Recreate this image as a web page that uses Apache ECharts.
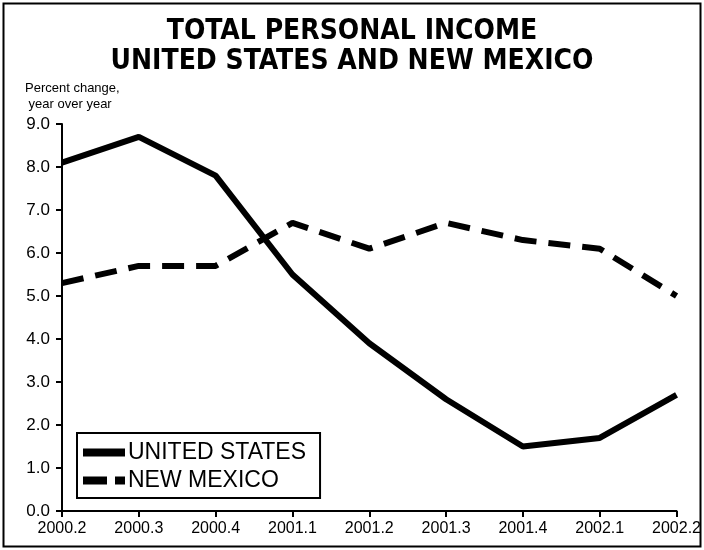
<!DOCTYPE html>
<html>
<head>
<meta charset="utf-8">
<script src="https://cdn.jsdelivr.net/npm/echarts@6/dist/echarts.min.js"></script>
<style>
  html, body { margin: 0; padding: 0; background: #fff; }
  #chart { width: 704px; height: 550px; }
</style>
</head>
<body>
<div id="chart"></div>
<script>
const quarters = ["2000.2", "2000.3", "2000.4", "2001.1", "2001.2", "2001.3", "2001.4", "2002.1", "2002.2"];
const unitedStates = [8.1, 8.7, 7.8, 5.5, 3.9, 2.6, 1.5, 1.7, 2.7];
const newMexico = [5.3, 5.7, 5.7, 6.7, 6.1, 6.7, 6.3, 6.1, 5.0];
const yTicks = [0, 1, 2, 3, 4, 5, 6, 7, 8, 9];

const labelFont = "'Liberation Sans', Arial, sans-serif";

const chart = echarts.init(document.getElementById("chart"), null, { renderer: "canvas" });

const option = {
  backgroundColor: "#fff",
  animation: false,
  title: {
    text: "TOTAL PERSONAL INCOME\nUNITED STATES AND NEW MEXICO",
    left: "center",
    top: 12,
    textStyle: {
      fontFamily: "'DejaVu Sans Condensed', 'DejaVu Sans', sans-serif",
      fontWeight: "bold",
      fontSize: 28,
      lineHeight: 30,
      color: "#000",
    },
  },
  graphic: [
    {
      type: "rect",
      shape: { x: 3.5, y: 3.5, width: 697, height: 543 },
      style: { fill: "none", stroke: "#000", lineWidth: 2 },
      silent: true,
    },
    {
      type: "text",
      left: 25,
      top: 80,
      style: {
        text: "Percent change,\n year over year",
        font: "13px " + labelFont,
        lineHeight: 16,
        fill: "#000",
      },
    },
  ],
  legend: {
    left: 77,
    top: 433,
    orient: "vertical",
    padding: [8, 14, 6, 6],
    itemGap: 5,
    itemWidth: 42,
    itemHeight: 8,
    borderColor: "#000",
    borderWidth: 2,
    borderRadius: 0,
    textStyle: { fontFamily: labelFont, fontSize: 23, color: "#000", padding: [0, 0, 0, -2] },
    data: [
      { name: "UNITED STATES", icon: "path://M0,0H42V8H0Z" },
      { name: "NEW MEXICO", icon: "path://M0,0H24V8H0ZM32,0H42V8H32Z" },
    ],
  },
  grid: { left: 62, right: 26, top: 124, bottom: 39 },
  xAxis: {
    type: "category",
    data: quarters,
    boundaryGap: false,
    axisLine: { lineStyle: { color: "#000", width: 2 } },
    axisTick: { show: true, length: 6, lineStyle: { color: "#000", width: 2 } },
    axisLabel: { fontFamily: labelFont, fontSize: 16, color: "#000", margin: 10 },
  },
  yAxis: {
    type: "value",
    min: yTicks[0],
    max: yTicks[yTicks.length - 1],
    interval: 1,
    splitLine: { show: false },
    axisLine: { show: true, lineStyle: { color: "#000", width: 2 } },
    axisTick: { show: true, length: 6, lineStyle: { color: "#000", width: 2 } },
    axisLabel: {
      fontFamily: labelFont,
      fontSize: 17,
      color: "#000",
      margin: 12,
      formatter: (v) => v.toFixed(1),
    },
  },
  series: [
    {
      name: "UNITED STATES",
      type: "line",
      data: unitedStates,
      showSymbol: false,
      symbol: "none",
      color: "#000",
      lineStyle: { color: "#000", width: 6 },
    },
    {
      name: "NEW MEXICO",
      type: "line",
      data: newMexico,
      showSymbol: false,
      symbol: "none",
      color: "#000",
      lineStyle: { color: "#000", width: 6, type: [22, 12] },
    },
  ],
};

chart.setOption(option);
</script>
</body>
</html>
